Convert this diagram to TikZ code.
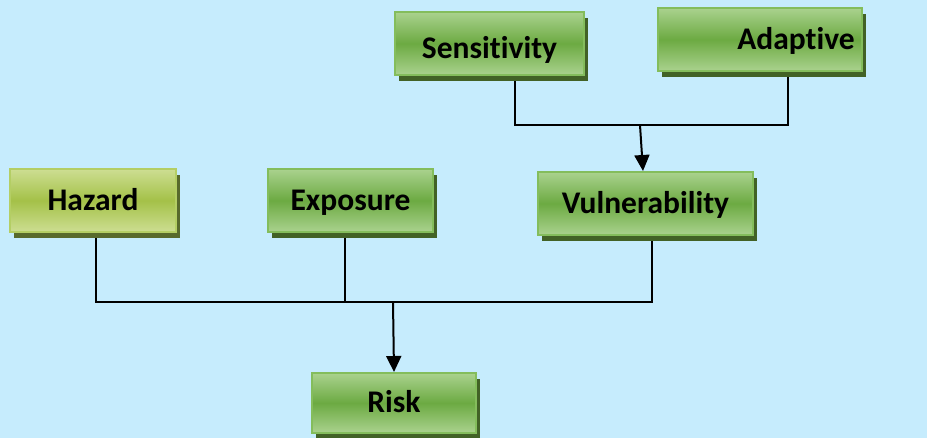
\documentclass[tikz,border=0pt]{standalone}
\usepackage{fontspec}
\setmainfont[Ligatures={NoCommon}]{Carlito}
\usetikzlibrary{arrows.meta,shadows}
\definecolor{bgblue}{RGB}{198,236,253}
\definecolor{gtop}{RGB}{170,210,142}
\definecolor{gmid}{RGB}{108,170,66}
\definecolor{gborder}{RGB}{132,189,92}
\definecolor{gshadow}{RGB}{66,98,38}
\definecolor{ytop}{RGB}{205,222,146}
\definecolor{ymid}{RGB}{164,193,72}
\definecolor{yborder}{RGB}{180,206,100}
\definecolor{yshadow}{RGB}{88,106,44}
\pgfdeclarelayer{bgl}
\pgfdeclarelayer{lines}
\pgfsetlayers{bgl,lines,main}
\tikzset{
  box/.style={draw=gborder, line width=2pt, top color=gtop, bottom color=gtop, middle color=gmid,
    minimum height=63pt, inner sep=0pt, font=\fontsize{31.5}{33}\selectfont\bfseries,
    text height=20pt, text depth=0pt,
    general shadow={shadow xshift=4pt, shadow yshift=-6pt, fill=gshadow}},
  ybox/.style={box, draw=yborder, top color=ytop, bottom color=ytop, middle color=ymid,
    general shadow={shadow xshift=4pt, shadow yshift=-6pt, fill=yshadow}},
  conn/.style={draw=black, line width=2pt},
  arr/.style={conn, -{Triangle[length=16pt,width=15pt]}}
}
\begin{document}
\begin{tikzpicture}[x=1pt,y=-1pt]
\begin{pgfonlayer}{bgl}
\fill[bgblue] (0,0) rectangle (927,438);
\end{pgfonlayer}
\useasboundingbox (0,0) rectangle (927,438);
\node[box, minimum width=189pt, text height=30pt] (sens) at (489.5,43.5) {Sensitivity};
\node[box, minimum width=204pt] (adap) at (760,39.5) {\hspace*{72pt}Adaptive};
\node[ybox, minimum width=166pt] (haz) at (93,200.5) {Hazard};
\node[box, minimum width=165pt] (expo) at (350.5,200.5) {Exposure};
\node[box, minimum width=215pt] (vul) at (645.5,203.5) {Vulnerability};
\node[box, minimum width=164pt, minimum height=60pt] (risk) at (394,403) {Risk};
\coordinate (j1) at (640,125);
\coordinate (j2) at (393,302);
\begin{pgfonlayer}{lines}
\draw[conn] ([xshift=25.5pt]sens.south) |- (j1) -| ([xshift=28pt]adap.south);
\draw[arr] (j1) -- ([xshift=-2.5pt]vul.north);
\draw[conn] ([xshift=3pt]haz.south) |- (j2) -| ([xshift=6.5pt]vul.south);
\draw[conn] ([xshift=-5.5pt]expo.south) -- ([xshift=-5.5pt]expo.south |- j2);
\draw[arr] (j2) -- (risk.north);
\end{pgfonlayer}
\end{tikzpicture}
\end{document}
